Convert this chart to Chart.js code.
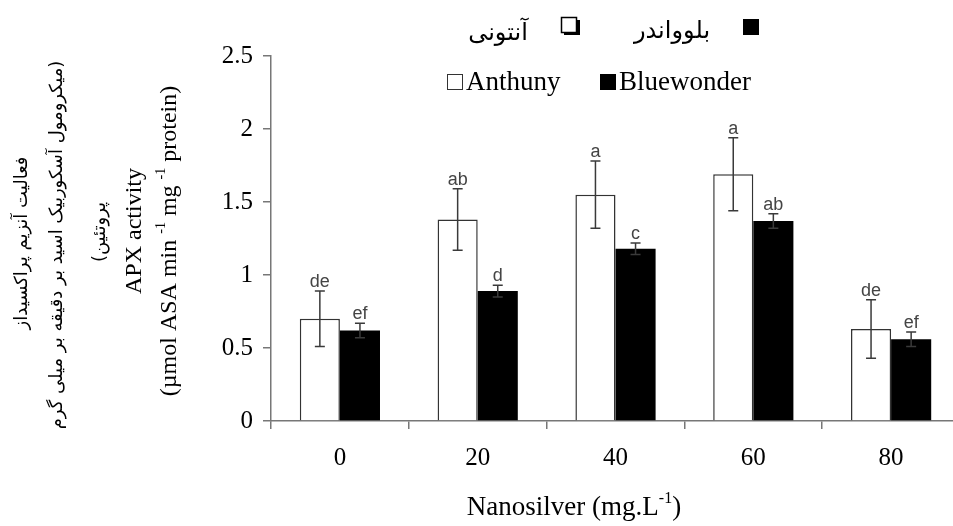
<!DOCTYPE html>
<html>
<head>
<meta charset="utf-8">
<script src="https://cdn.jsdelivr.net/npm/chart.js@4"></script>
<style>
    html, body { margin: 0; padding: 0; background: #fff; overflow: hidden; }
    #wrap { width: 980px; height: 526px; }
</style>
</head>
<body>
<div id="wrap"><canvas id="apx-chart"></canvas></div>
<script>
// Dados do gráfico
const categories = ['0', '20', '40', '60', '80'];
const anthunyValues = [0.70, 1.38, 1.55, 1.69, 0.63];
const anthunyErrors = [0.19, 0.21, 0.23, 0.25, 0.20];
const anthunyLetters = ['de', 'ab', 'a', 'a', 'de'];
const bluewonderValues = [0.62, 0.89, 1.18, 1.37, 0.56];
const bluewonderErrors = [0.05, 0.04, 0.04, 0.05, 0.05];
const bluewonderLetters = ['ef', 'd', 'c', 'ab', 'ef'];
const yTicks = [0, 0.5, 1, 1.5, 2, 2.5];

const SERIF = '"Liberation Serif", "Times New Roman", serif';
const SANS = '"Liberation Sans", Arial, sans-serif';
const PERSIAN = '"DejaVu Sans", sans-serif';

// texto rotacionado com partes sobrescritas
function drawRotatedRuns(ctx, x, y, runs, size) {
    ctx.save();
    ctx.translate(x, y);
    ctx.rotate(-Math.PI / 2);
    let total = 0;
    runs.forEach(r => {
        ctx.font = (r[1] ? Math.round(size * 0.6) : size) + 'px ' + SERIF;
        total += ctx.measureText(r[0]).width;
    });
    let cx = -total / 2;
    ctx.textAlign = 'left';
    ctx.textBaseline = 'middle';
    runs.forEach(r => {
        ctx.font = (r[1] ? Math.round(size * 0.6) : size) + 'px ' + SERIF;
        ctx.fillText(r[0], cx, r[1] ? -size * 0.35 : 0);
        cx += ctx.measureText(r[0]).width;
    });
    ctx.restore();
}

function drawRotatedPersian(ctx, x, y, text, size) {
    ctx.save();
    ctx.translate(x, y);
    ctx.rotate(-Math.PI / 2);
    ctx.direction = 'rtl';
    ctx.font = size + 'px ' + PERSIAN;
    ctx.textAlign = 'center';
    ctx.textBaseline = 'middle';
    ctx.fillText(text, 0, 0);
    ctx.restore();
}

function drawRuns(ctx, x, y, runs, size) {
    let total = 0;
    runs.forEach(r => {
        ctx.font = (r[1] ? Math.round(size * 0.6) : size) + 'px ' + SERIF;
        total += ctx.measureText(r[0]).width;
    });
    let cx = x - total / 2;
    ctx.textAlign = 'left';
    ctx.textBaseline = 'middle';
    runs.forEach(r => {
        ctx.font = (r[1] ? Math.round(size * 0.6) : size) + 'px ' + SERIF;
        ctx.fillText(r[0], cx, r[1] ? y - size * 0.35 : y);
        cx += ctx.measureText(r[0]).width;
    });
}

// barras de erro + letras de significância
const errorBarsPlugin = {
    id: 'errorBars',
    afterDatasetsDraw(chart) {
        const ctx = chart.ctx;
        const yScale = chart.scales.y;
        const sets = [
            [anthunyValues, anthunyErrors, anthunyLetters],
            [bluewonderValues, bluewonderErrors, bluewonderLetters]
        ];
        ctx.save();
        sets.forEach((s, di) => {
            const meta = chart.getDatasetMeta(di);
            meta.data.forEach((bar, i) => {
                const yTop = yScale.getPixelForValue(s[0][i] + s[1][i]);
                const yBot = yScale.getPixelForValue(s[0][i] - s[1][i]);
                ctx.strokeStyle = '#3a3a3a';
                ctx.lineWidth = 1.5;
                ctx.beginPath();
                ctx.moveTo(bar.x, yTop);
                ctx.lineTo(bar.x, yBot);
                ctx.moveTo(bar.x - 5, yTop);
                ctx.lineTo(bar.x + 5, yTop);
                ctx.moveTo(bar.x - 5, yBot);
                ctx.lineTo(bar.x + 5, yBot);
                ctx.stroke();
                ctx.fillStyle = '#444';
                ctx.font = '18px ' + SANS;
                ctx.textAlign = 'center';
                ctx.textBaseline = 'alphabetic';
                ctx.fillText(s[2][i], bar.x, yTop - 4);
            });
        });
        ctx.restore();
    }
};

// títulos dos eixos e legenda bilíngue
const labelsPlugin = {
    id: 'labels',
    afterDraw(chart) {
        const ctx = chart.ctx;
        ctx.save();
        ctx.fillStyle = '#000';

        // título do eixo Y
        drawRotatedPersian(ctx, 22, 243, 'فعالیت آنزیم پراکسیداز', 18);
        drawRotatedPersian(ctx, 57, 245, '(میکرومول آسکوربیک اسید بر دقیقه بر میلی گرم', 18);
        drawRotatedPersian(ctx, 100, 232, 'پروتئین)', 18);
        drawRotatedRuns(ctx, 135, 231, [['APX activity', false]], 24);
        drawRotatedRuns(ctx, 170, 241, [['(µmol ASA min ', false], ['-1', true], [' mg ', false], ['-1', true], [' protein)', false]], 24);

        // título do eixo X
        drawRuns(ctx, 574, 508, [['Nanosilver (mg.L', false], ['-1', true], [')', false]], 27);

        // legenda persa
        ctx.fillStyle = '#000';
        ctx.fillRect(743, 19, 16, 16);
        ctx.strokeStyle = '#000';
        ctx.lineWidth = 1.5;
        ctx.strokeRect(561.5, 17.5, 15, 15);
        ctx.fillRect(564, 32, 16, 3);
        ctx.fillRect(577, 20, 3, 15);
        ctx.direction = 'rtl';
        ctx.font = '24px ' + PERSIAN;
        ctx.textAlign = 'center';
        ctx.textBaseline = 'middle';
        ctx.fillText('بلوواندر', 672, 32);
        ctx.fillText('آنتونی', 498, 34);
        ctx.direction = 'ltr';

        // legenda inglesa
        ctx.lineWidth = 1;
        ctx.strokeStyle = '#333';
        ctx.strokeRect(447.5, 74.5, 15, 15);
        ctx.fillRect(600, 74, 16, 16);
        ctx.font = '27px ' + SERIF;
        ctx.textAlign = 'left';
        ctx.textBaseline = 'alphabetic';
        ctx.fillText('Anthuny', 466, 90);
        ctx.fillText('Bluewonder', 619, 90);
        ctx.restore();
    }
};

new Chart(document.getElementById('apx-chart'), {
    type: 'bar',
    data: {
        labels: categories,
        datasets: [
            {
                label: 'Anthuny',
                data: anthunyValues,
                backgroundColor: '#ffffff',
                borderColor: '#333333',
                borderWidth: 1.5,
                categoryPercentage: 0.582,
                barPercentage: 1
            },
            {
                label: 'Bluewonder',
                data: bluewonderValues,
                backgroundColor: '#000000',
                borderWidth: 0,
                categoryPercentage: 0.582,
                barPercentage: 1
            }
        ]
    },
    options: {
        responsive: true,
        maintainAspectRatio: false,
        animation: false,
        layout: { padding: { left: 0, right: 20, top: 56, bottom: 45 } },
        plugins: {
            legend: { display: false },
            tooltip: { enabled: false }
        },
        scales: {
            x: {
                afterFit: function(scale) { scale.height = 60; },
                grid: { drawOnChartArea: false, tickLength: 8, color: '#777', lineWidth: 1.5 },
                border: { color: '#777', width: 1.5 },
                ticks: { color: '#000', padding: 14, font: { family: SERIF, size: 25 } }
            },
            y: {
                min: 0,
                max: 2.5,
                afterFit: function(scale) { scale.width = 271; },
                afterBuildTicks: function(scale) { scale.ticks = yTicks.map(v => ({ value: v })); },
                grid: { drawOnChartArea: false, tickLength: 8, color: '#777', lineWidth: 1.5 },
                border: { color: '#777', width: 1.5 },
                ticks: {
                    color: '#000',
                    padding: 10,
                    font: { family: SERIF, size: 25 },
                    callback: function(value) { return String(value); }
                }
            }
        }
    },
    plugins: [errorBarsPlugin, labelsPlugin]
});
</script>
</body>
</html>
